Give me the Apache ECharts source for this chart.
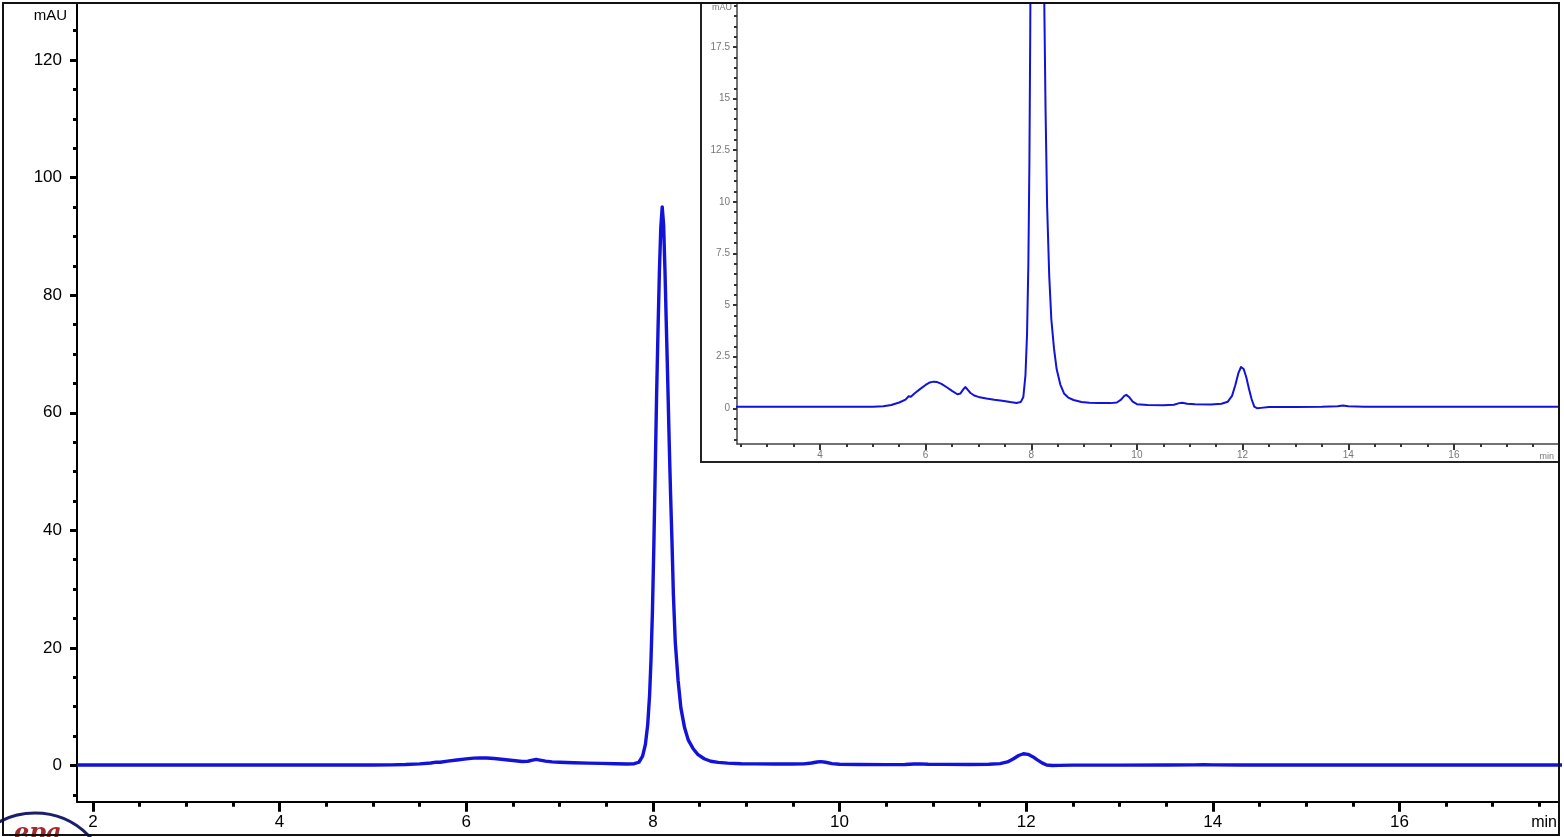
<!DOCTYPE html>
<html><head><meta charset="utf-8">
<script src="https://cdn.jsdelivr.net/npm/echarts@6/dist/echarts.min.js"></script>
<style>html,body{margin:0;padding:0;background:#fff}#c{width:1564px;height:837px}</style>
</head><body><div id="c"></div>
<script>
// ---- data (retention time in min, absorbance in mAU) ----
const times = [1.83,2.2,2.6,3.0,3.4,3.8,4.2,4.6,5.0,5.2,5.35,5.5,5.62,5.68,5.72,5.8,5.9,6.0,6.08,6.15,6.22,6.3,6.4,6.5,6.6,6.66,6.71,6.75,6.79,6.85,6.92,7.0,7.15,7.3,7.45,7.6,7.72,7.8,7.85,7.89,7.92,7.945,7.965,7.98,7.995,8.01,8.025,8.04,8.055,8.07,8.085,8.1,8.115,8.13,8.145,8.16,8.175,8.19,8.205,8.22,8.24,8.27,8.3,8.34,8.38,8.43,8.48,8.55,8.62,8.7,8.8,8.95,9.1,9.3,9.5,9.62,9.7,9.76,9.8,9.85,9.92,10.0,10.2,10.5,10.7,10.8,10.86,10.95,11.1,11.4,11.6,11.72,11.8,11.86,11.92,11.97,12.02,12.07,12.12,12.17,12.22,12.28,12.35,12.5,13.0,13.5,13.8,13.9,14.0,14.3,14.8,15.3,15.8,16.3,16.8,17.3,17.98];
const absorbance = [0.08,0.07,0.08,0.07,0.08,0.07,0.08,0.07,0.08,0.1,0.16,0.28,0.42,0.58,0.56,0.74,0.94,1.13,1.25,1.29,1.27,1.18,1.02,0.84,0.68,0.72,0.9,1.03,0.92,0.74,0.62,0.55,0.47,0.41,0.36,0.3,0.26,0.3,0.55,1.6,3.6,7,12,18,26,37,50,63,74,84,91.5,95,92,84,74.4,65,55,46,38,29,21,14.5,9.8,6.4,4.3,2.9,1.9,1.15,0.72,0.52,0.4,0.3,0.27,0.26,0.25,0.28,0.42,0.6,0.65,0.55,0.32,0.2,0.16,0.15,0.17,0.25,0.27,0.22,0.19,0.18,0.22,0.32,0.6,1.1,1.7,2.0,1.9,1.5,0.95,0.45,0.08,0.0,0.02,0.06,0.06,0.07,0.1,0.13,0.1,0.07,0.08,0.07,0.07,0.08,0.07,0.07,0.07];

// ---- tick labels ----
const mainXTicks = [2,4,6,8,10,12,14,16];
const mainYTicks = [0,20,40,60,80,100,120];
const insetXTicks = [4,6,8,10,12,14,16];
const insetYTicks = [0,2.5,5,7.5,10,12.5,15,17.5];
const yUnit = 'mAU';
const xUnit = 'min';

function steps(a,b,s){const r=[];for(let v=a;v<=b+1e-9;v+=s)r.push(Math.round(v*100)/100);return r;}
const pts = times.map((t,i)=>[t, absorbance[i]]);

const FONT = '"Liberation Sans", Arial, sans-serif';
const MX = {min:1.829, max:17.71};
const MY = {min:-6.16, max:129.7};
const IX = {min:2.43, max:17.97};
const IY = {min:-1.73, max:19.63};
const LINE = '#1212d8';

const chart = echarts.init(document.getElementById('c'), null, {renderer:'canvas'});
chart.setOption({
  animation:false,
  backgroundColor:'#fff',
  grid:[
    {left:77, top:3, width:1482, height:798.7},
    {left:737, top:3, width:821, height:441, z:10}
  ],
  xAxis:[
    {gridIndex:0,type:'value',min:MX.min,max:MX.max,position:'bottom',
     axisLine:{onZero:false,lineStyle:{color:'#000',width:2}},
     axisTick:{customValues:mainXTicks,length:10,lineStyle:{color:'#000',width:3}},
     axisLabel:{customValues:mainXTicks,fontSize:17,color:'#000',margin:12,fontFamily:FONT},
     splitLine:{show:false}},
    {gridIndex:0,type:'value',min:MX.min,max:MX.max,position:'bottom',
     axisLine:{show:false,onZero:false},
     axisTick:{customValues:steps(2,17.5,0.5),length:5,lineStyle:{color:'#000',width:3}},
     axisLabel:{show:false},splitLine:{show:false}},
    {gridIndex:1,type:'value',min:IX.min,max:IX.max,position:'bottom',z:11,
     axisLine:{onZero:false,lineStyle:{color:'#444',width:1.5}},
     axisTick:{customValues:insetXTicks,length:6,lineStyle:{color:'#333',width:2}},
     axisLabel:{customValues:insetXTicks,fontSize:10,color:'#777',margin:6,fontFamily:FONT},
     splitLine:{show:false}},
    {gridIndex:1,type:'value',min:IX.min,max:IX.max,position:'bottom',z:11,
     axisLine:{show:false,onZero:false},
     axisTick:{customValues:steps(2.5,17.5,0.5),length:3,lineStyle:{color:'#333',width:2}},
     axisLabel:{show:false},splitLine:{show:false}}
  ],
  yAxis:[
    {gridIndex:0,type:'value',min:MY.min,max:MY.max,position:'left',
     axisLine:{onZero:false,lineStyle:{color:'#000',width:2}},
     axisTick:{customValues:mainYTicks,length:7,lineStyle:{color:'#000',width:3}},
     axisLabel:{customValues:mainYTicks,fontSize:17,color:'#000',margin:15,fontFamily:FONT},
     splitLine:{show:false}},
    {gridIndex:0,type:'value',min:MY.min,max:MY.max,position:'left',
     axisLine:{show:false,onZero:false},
     axisTick:{customValues:steps(-5,125,5),length:4,lineStyle:{color:'#000',width:3}},
     axisLabel:{show:false},splitLine:{show:false}},
    {gridIndex:1,type:'value',min:IY.min,max:IY.max,position:'left',z:11,
     axisLine:{onZero:false,lineStyle:{color:'#444',width:1.5}},
     axisTick:{customValues:insetYTicks,length:4,lineStyle:{color:'#333',width:2}},
     axisLabel:{customValues:insetYTicks,fontSize:10,color:'#777',margin:7,fontFamily:FONT},
     splitLine:{show:false}},
    {gridIndex:1,type:'value',min:IY.min,max:IY.max,position:'left',z:11,
     axisLine:{show:false,onZero:false},
     axisTick:{customValues:steps(-1.5,19.5,0.5),length:3,lineStyle:{color:'#333',width:2}},
     axisLabel:{show:false},splitLine:{show:false}}
  ],
  series:[
    {type:'line',xAxisIndex:0,yAxisIndex:0,data:pts,showSymbol:false,symbol:'none',z:2,
     lineStyle:{color:LINE,width:3.4,join:'round'},clip:true},
    {type:'line',xAxisIndex:2,yAxisIndex:2,data:pts,showSymbol:false,symbol:'none',z:12,
     lineStyle:{color:LINE,width:2,join:'round'},clip:true}
  ],
  graphic:[
    {type:'rect',z:5,shape:{x:701,y:3,width:858,height:459},
     style:{fill:'#fff',stroke:'#222',lineWidth:2}},
    {type:'rect',z:100,shape:{x:3,y:3,width:1556,height:832},
     style:{fill:null,stroke:'#111',lineWidth:2}},
    {type:'text',z:20,x:67,y:16,style:{text:yUnit,font:'15px '+FONT,fill:'#000',textAlign:'right',textVerticalAlign:'middle'}},
    {type:'text',z:20,x:1557,y:823,style:{text:xUnit,font:'16px '+FONT,fill:'#000',textAlign:'right',textVerticalAlign:'middle'}},
    {type:'text',z:20,x:732,y:8,style:{text:yUnit,font:'9px '+FONT,fill:'#777',textAlign:'right',textVerticalAlign:'middle'}},
    {type:'text',z:20,x:1554,y:457,style:{text:xUnit,font:'9px '+FONT,fill:'#777',textAlign:'right',textVerticalAlign:'middle'}},
    {type:'circle',z:30,shape:{cx:35,cy:888,r:75},style:{fill:null,stroke:'#1b1f6b',lineWidth:3}},
    {type:'text',z:30,x:14,y:822,style:{text:'epa',font:'italic bold 24px "DejaVu Serif", serif',fill:'#a52a2a',textAlign:'left',textVerticalAlign:'top'}}
  ]
});
</script>
</body></html>
